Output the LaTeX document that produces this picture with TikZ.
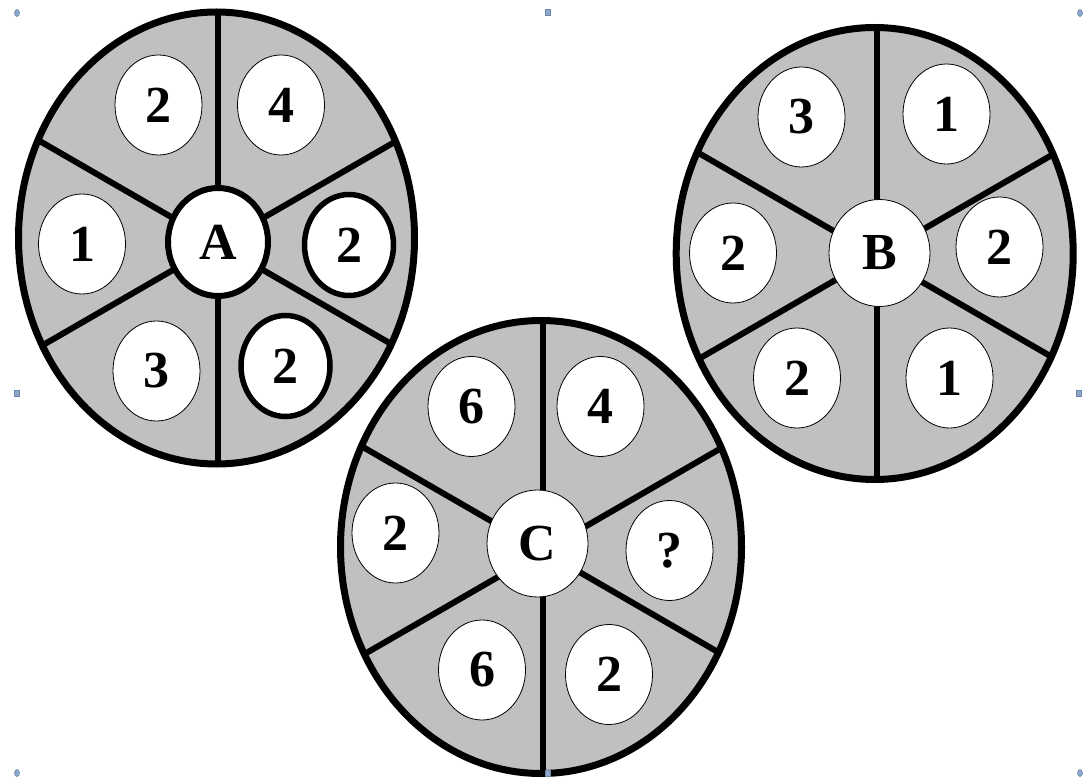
\documentclass[tikz,border=0pt]{standalone}
\usepackage{fontspec}
\setmainfont{Liberation Serif}
\usetikzlibrary{shapes.geometric}
\definecolor{wheelgray}{HTML}{C0C0C0}
\definecolor{handlefill}{HTML}{8FA8C8}
\definecolor{handleline}{HTML}{6A87B0}
\tikzset{
  rim/.style={draw=black, line width=7pt},
  spoke/.style={draw=black, line width=6pt},
  numc/.style={ellipse, draw=black, line width=0.8pt, fill=white, minimum width=87pt, minimum height=100pt, inner sep=0pt, font=\fontsize{52}{54}\selectfont\bfseries},
  numthick/.style={numc, line width=5.5pt, minimum width=89pt, minimum height=101pt},
  hubc/.style={numc, minimum width=101pt, minimum height=107pt},
  hubthick/.style={hubc, line width=6pt, minimum width=100pt, minimum height=108pt},
  hsq/.style={rectangle, draw=handleline, fill=handlefill, line width=0.6pt, minimum width=5pt, minimum height=6pt, inner sep=0pt},
  hcir/.style={ellipse, draw=handleline, fill=handlefill, line width=0.6pt, minimum width=5pt, minimum height=7pt, inner sep=0pt}
}
\newcommand\wheelbase[6]{%
  \fill[wheelgray] (#1,#2) ellipse [x radius=#3, y radius=#4];
  \begin{scope}
    \clip (#1,#2) ellipse [x radius=#3, y radius=#4];
    \foreach \ang in {30,90,...,330} \draw[spoke] (#5,#6) -- ++(\ang:300);
  \end{scope}
  \draw[rim] (#1,#2) ellipse [x radius=#3, y radius=#4];
}
\begin{document}
\begin{tikzpicture}[x=1pt,y=-1pt]
\useasboundingbox[fill=white] (0,0) rectangle (1083,783);
% ---------- wheel A ----------
\wheelbase{216.5}{238}{198}{226}{218}{244}
\node[hubthick] (hA) at (218,242) {A};
\node[numc] (a1) at (158.5,105) {2};
\node[numc] (a2) at (281,105) {4};
\node[numc] (a3) at (82,244) {1};
\node[numthick] (a4) at (349,245) {2};
\node[numc] (a5) at (156.5,371) {3};
\node[numthick] (a6) at (285.5,366) {2};
% ---------- wheel B ----------
\wheelbase{874.7}{253.5}{198.5}{226}{877}{256}
\node[hubc] (hB) at (879.5,253) {B};
\node[numc] (b1) at (801.5,117) {3};
\node[numc] (b2) at (946.5,114) {1};
\node[numc] (b3) at (733,253) {2};
\node[numc] (b4) at (999.5,247) {2};
\node[numc] (b5) at (797,378) {2};
\node[numc] (b6) at (949.5,378) {1};
% ---------- wheel C ----------
\wheelbase{541}{547}{200.5}{226.5}{543}{551}
\node[hubc] (hC) at (537.5,543.5) {C};
\node[numc] (c1) at (471.5,406.5) {6};
\node[numc] (c2) at (600.5,406.5) {4};
\node[numc] (c3) at (395.5,533) {2};
\node[numc] (c4) at (669.5,550.5) {?};
\node[numc] (c5) at (482,670) {6};
\node[numc] (c6) at (609,674.5) {2};
% ---------- selection handles ----------
\node[hcir] (h1) at (17,13) {};
\node[hsq]  (h2) at (548,12) {};
\node[hcir] (h3) at (1080,13) {};
\node[hsq]  (h4) at (17,393) {};
\node[hsq]  (h5) at (1079,393) {};
\node[hcir] (h6) at (17,773) {};
\node[hsq]  (h7) at (548,773) {};
\node[hcir] (h8) at (1080,773) {};
\end{tikzpicture}
\end{document}
